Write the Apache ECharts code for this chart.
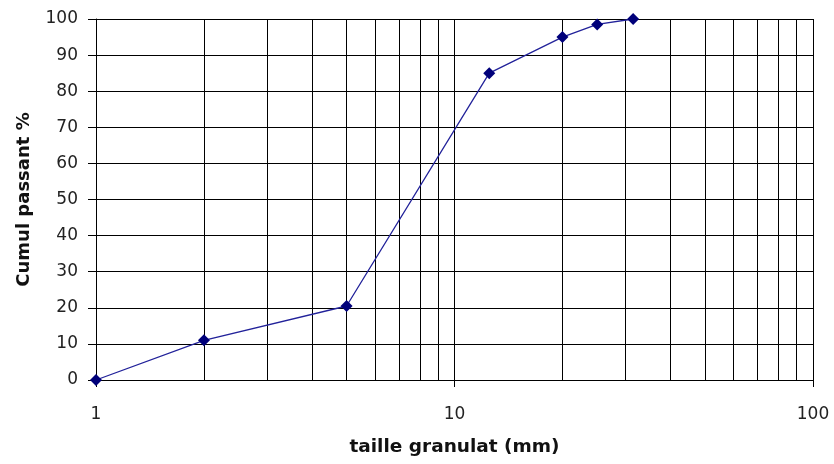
<!DOCTYPE html>
<html>
<head>
<meta charset="utf-8">
<script src="https://cdn.jsdelivr.net/npm/echarts@6/dist/echarts.min.js"></script>
<style>
  html, body { margin: 0; padding: 0; background: #fff; }
  #chart { width: 834px; height: 464px; }
</style>
</head>
<body>
<div id="chart"></div>
<script>
// Sieve sizes (mm) and cumulative passing percentages
const sizes = [1, 2, 5, 12.5, 20, 25, 31.5];
const passing = [0, 11, 20.5, 85, 95, 98.5, 100];

// Intermediate log-scale gridlines inside each decade
const minorGrid = [2, 3, 4, 5, 6, 7, 8, 9, 20, 30, 40, 50, 60, 70, 80, 90];

const chart = echarts.init(document.getElementById('chart'));
const font = 'DejaVu Sans, sans-serif';

chart.setOption({
  animation: false,
  grid: { left: 96, right: 21, top: 19, bottom: 84 },
  xAxis: {
    type: 'log',
    logBase: 10,
    min: 1,
    max: 100,
    name: 'taille granulat (mm)',
    nameLocation: 'middle',
    nameGap: 58,
    nameTextStyle: { fontFamily: font, fontSize: 18.5, fontWeight: 'bold', color: '#111' },
    axisLine: { show: true, lineStyle: { color: '#000', width: 1 } },
    axisTick: { show: true, length: 7, lineStyle: { color: '#000' } },
    axisLabel: { fontFamily: font, fontSize: 17, color: '#222', margin: 26 },
    splitLine: { show: true, lineStyle: { color: '#000', width: 1 } }
  },
  yAxis: {
    type: 'value',
    min: 0,
    max: 100,
    interval: 10,
    name: 'Cumul passant %',
    nameLocation: 'middle',
    nameGap: 63,
    nameTextStyle: { fontFamily: font, fontSize: 18, fontWeight: 'bold', color: '#111' },
    axisLine: { show: true, lineStyle: { color: '#000', width: 1 } },
    axisTick: { show: true, length: 8, lineStyle: { color: '#000' } },
    axisLabel: { fontFamily: font, fontSize: 17, color: '#222', margin: 18 },
    splitLine: { show: true, lineStyle: { color: '#000', width: 1 } }
  },
  series: [
    {
      type: 'line',
      data: sizes.map((s, i) => [s, passing[i]]),
      lineStyle: { color: '#22229a', width: 1.3 },
      itemStyle: { color: '#00007a' },
      symbol: 'diamond',
      symbolSize: 12,
      z: 5,
      markLine: {
        silent: true,
        symbol: 'none',
        label: { show: false },
        lineStyle: { color: '#000', width: 1, type: 'solid' },
        data: minorGrid.map(v => ({ xAxis: v }))
      }
    }
  ]
});
</script>
</body>
</html>
